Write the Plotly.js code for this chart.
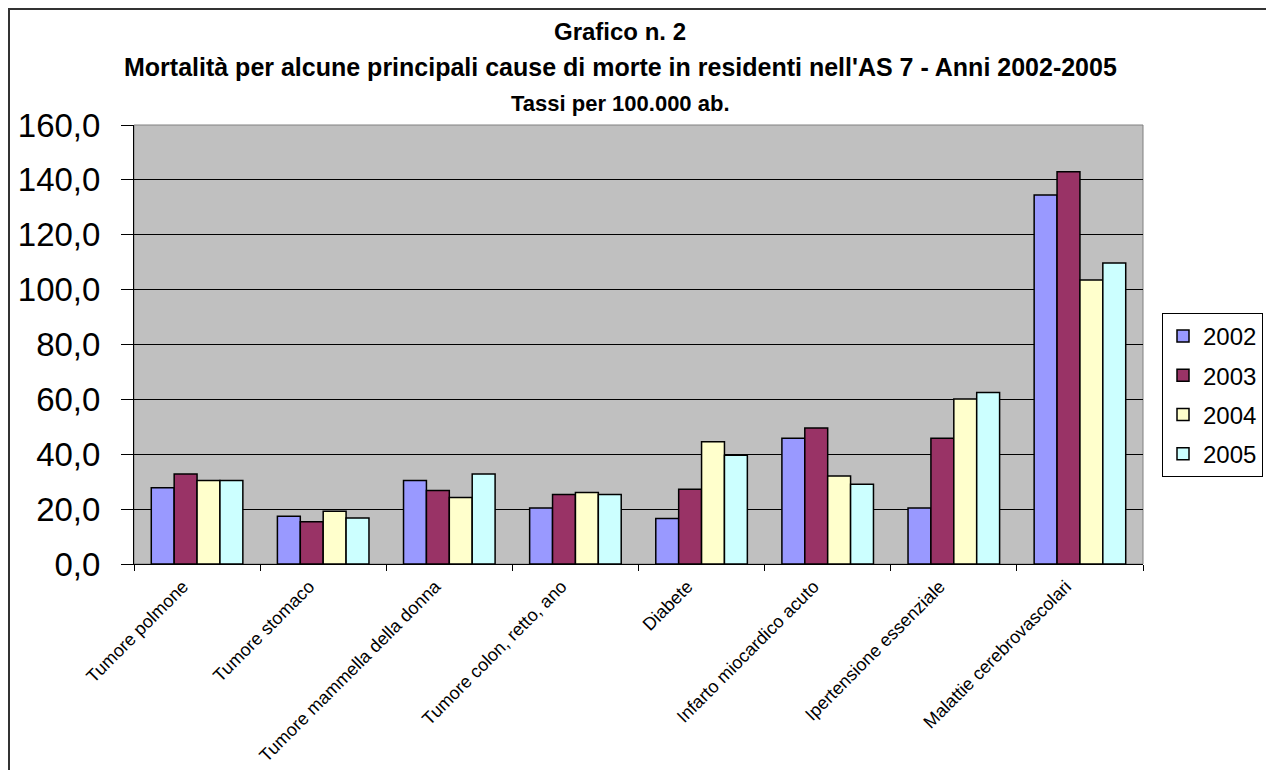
<!DOCTYPE html>
<html>
<head>
<meta charset="utf-8">
<script src="https://cdn.plot.ly/plotly-3.0.1.min.js"></script>
<style>
  html, body { margin: 0; padding: 0; background: #fff; overflow: hidden; }
  #chart { position: absolute; left: 0; top: 0; width: 1266px; height: 770px; }
  #frame { position: absolute; left: 8px; top: 8px; width: 1300px; height: 800px;
           border-left: 2px solid #333; border-top: 2px solid #333; pointer-events: none; }
</style>
</head>
<body>
<div id="chart"></div>
<div id="frame"></div>
<script>
const categories = [
  "Tumore polmone",
  "Tumore stomaco",
  "Tumore mammella della donna",
  "Tumore colon, retto, ano",
  "Diabete",
  "Infarto miocardico acuto",
  "Ipertensione essenziale",
  "Malattie cerebrovascolari"
];
const years = ["2002", "2003", "2004", "2005"];
const v2002 = [27.8, 17.4, 30.4, 20.4, 16.6, 45.8, 20.4, 134.5];
const v2003 = [32.8, 15.4, 26.8, 25.3, 27.2, 49.6, 45.8, 143.0];
const v2004 = [30.4, 19.2, 24.2, 26.1, 44.6, 32.1, 60.1, 103.5];
const v2005 = [30.4, 16.8, 32.8, 25.3, 39.6, 29.1, 62.5, 109.7];
const seriesValues = [v2002, v2003, v2004, v2005];
const colors = ["#9999FF", "#993366", "#FFFFCC", "#CCFFFF"];
const yTicks = [0, 20, 40, 60, 80, 100, 120, 140, 160];
const titleLines = [
  "Grafico n. 2",
  "Mortalità per alcune principali cause di morte in residenti nell'AS 7 - Anni 2002-2005",
  "Tassi per 100.000 ab."
];

const FONT = "Liberation Sans, Arial, Helvetica, sans-serif";

const traces = years.map((y, i) => ({
  type: "bar",
  name: y,
  x: categories,
  y: seriesValues[i],
  legendgroup: "g" + y,
  marker: { color: colors[i], line: { color: "#000", width: 1.5 } },
  hoverinfo: "x+y+name"
}));

// plot area in pixels: left 134, right 1143, top 125, bottom 564
const L = 134, R = 1143, T = 125, B = 564, W = 1266, H = 770;
const px2x = px => (px - L) / (R - L);
const py2y = py => (B - py) / (B - T);

const titleY = [31, 67, 103];
const titleSize = [24, 25, 22];
const annotations = titleLines.map((t, i) => ({
  text: "<b>" + t + "</b>",
  xref: "paper", yref: "paper",
  x: px2x(620), y: py2y(titleY[i]),
  xanchor: "center", yanchor: "middle",
  showarrow: false,
  font: { family: FONT, size: titleSize[i], color: "#000" }
}));

const layout = {
  width: W, height: H,
  margin: { l: L, r: W - R, t: T, b: H - B, pad: 0, autoexpand: false },
  paper_bgcolor: "#ffffff",
  plot_bgcolor: "#C0C0C0",
  barmode: "group",
  bargap: 0.274,
  bargroupgap: 0,
  showlegend: true,
  legend: {
    x: px2x(1162), xanchor: "left",
    y: py2y(313), yanchor: "top",
    bgcolor: "#ffffff",
    bordercolor: "#000", borderwidth: 1,
    font: { family: FONT, size: 24, color: "#000" },
    tracegroupgap: 5,
    itemwidth: 30,
    itemclick: false
  },
  xaxis: {
    type: "category",
    showgrid: false,
    showline: true, linecolor: "#000", linewidth: 1,
    ticks: "outside", tickson: "boundaries", ticklen: 6, tickcolor: "#000",
    tickangle: -45,
    ticklabelshift: -14,
    ticklabelstandoff: 4,
    tickfont: { family: FONT, size: 18, color: "#000" },
    fixedrange: true
  },
  yaxis: {
    range: [0, 160],
    tickvals: yTicks,
    tickformat: ".1f",
    showgrid: true, gridcolor: "#000", gridwidth: 1,
    zeroline: false,
    showline: true, linecolor: "#000", linewidth: 1,
    ticks: "outside", ticklen: 12, tickcolor: "#000",
    ticklabelstandoff: 14,
    tickfont: { family: FONT, size: 33, color: "#000" },
    fixedrange: true
  },
  separators: ",.",
  shapes: [{
    type: "rect", xref: "paper", yref: "paper",
    x0: 0, x1: 1, y0: 0, y1: 1,
    line: { color: "#808080", width: 1 }, layer: "below"
  }],
  annotations: annotations
};

Plotly.newPlot("chart", traces, layout, { displayModeBar: false, staticPlot: true });
</script>
</body>
</html>
